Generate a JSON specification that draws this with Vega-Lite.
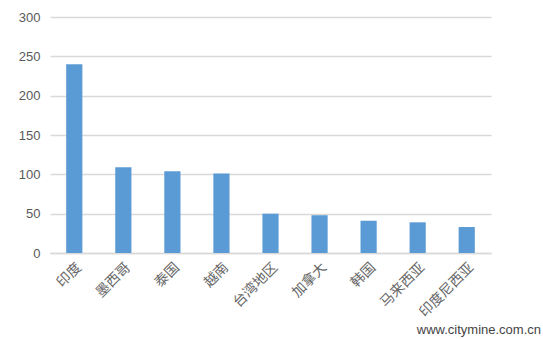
{
  "$schema": "https://vega.github.io/schema/vega-lite/v6.json",
  "width": 441,
  "height": 236,
  "autosize": "none",
  "padding": {"left": 50, "top": 17, "right": 52, "bottom": 86},
  "background": "white",
  "data": {
    "values": [
      {"region": "印度", "value": 240},
      {"region": "墨西哥", "value": 109},
      {"region": "泰国", "value": 104},
      {"region": "越南", "value": 101},
      {"region": "台湾地区", "value": 50},
      {"region": "加拿大", "value": 48},
      {"region": "韩国", "value": 41},
      {"region": "马来西亚", "value": 39},
      {"region": "印度尼西亚", "value": 33}
    ]
  },
  "title": {
    "text": "www.citymine.com.cn",
    "orient": "bottom",
    "anchor": "end",
    "font": "Liberation Sans",
    "fontSize": 13,
    "fontWeight": "normal",
    "color": "#444444",
    "offset": 5,
    "dx": 50
  },
  "mark": {"type": "bar", "color": "#5b9bd5"},
  "encoding": {
    "x": {
      "field": "region",
      "type": "nominal",
      "sort": null,
      "scale": {"paddingInner": 0.67, "paddingOuter": 0.33},
      "axis": {
        "title": null,
        "labelAngle": -45,
        "labelFont": "Noto Sans CJK SC",
        "labelFontSize": 14,
        "labelColor": "#666666",
        "ticks": false,
        "domainColor": "#d9d9d9",
        "domainWidth": 1.5,
        "labelPadding": 7
      }
    },
    "y": {
      "field": "value",
      "type": "quantitative",
      "scale": {"domain": [0, 300]},
      "axis": {
        "title": null,
        "values": [0, 50, 100, 150, 200, 250, 300],
        "domain": false,
        "ticks": false,
        "gridColor": "#d9d9d9",
        "gridWidth": 1.5,
        "labelFont": "Liberation Sans",
        "labelFontSize": 13,
        "labelColor": "#595959",
        "labelPadding": 10
      }
    }
  },
  "config": {"view": {"stroke": null}}
}
